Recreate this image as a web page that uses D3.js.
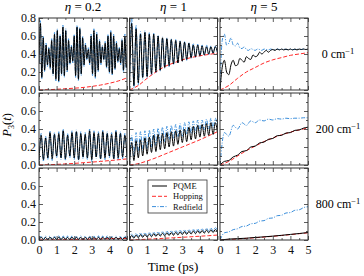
<!DOCTYPE html>
<html>
<head>
<meta charset="utf-8">
<script src="https://cdn.jsdelivr.net/npm/d3@7"></script>
<style>
  body { margin: 0; background: #fff; }
  svg text { font-family: "Liberation Serif", "Times New Roman", "DejaVu Serif", serif; }
</style>
</head>
<body>
<svg width="364" height="276"></svg>
<script>
// labels
const etaLabels = ["\u03b7 = 0.2", "\u03b7 = 1", "\u03b7 = 5"];
const couplingLabels = ["0", "200", "800"];
const seriesNames = ["PQME", "Hopping", "Redfield"];
const xTicks = [0, 1, 2, 3, 4, 5];
const yTicks = [0, 0.2, 0.4, 0.6, 0.8];

// time steps (ps) of the sampled curves
const dtA = 0.08, dtB = 0.125, dtC = 0.25, dtD = 0.5;

// row 0 : 0 cm-1
const pqme00 = [0.30,0.74,0.14,0.58,0.22,0.50,0.28,0.46,0.25,0.55,0.18,0.62,0.12,0.66,0.10,0.60,0.18,0.70,0.16,0.66,0.22,0.55,0.30,0.48,0.32,0.60,0.16,0.70,0.12,0.68,0.18,0.58,0.28,0.50,0.35,0.45,0.30,0.60,0.18,0.66,0.15,0.62,0.22,0.54,0.30,0.48,0.34,0.52,0.26,0.60,0.20,0.64,0.18,0.60,0.24,0.52,0.32,0.46,0.30,0.55,0.22,0.60,0.25,0.58];
const redfield00 = [0.30,0.77,0.12,0.60,0.20,0.52,0.26,0.48,0.23,0.57,0.16,0.64,0.10,0.68,0.08,0.62,0.16,0.72,0.14,0.68,0.20,0.57,0.28,0.50,0.30,0.62,0.14,0.72,0.10,0.70,0.16,0.60,0.26,0.52,0.33,0.47,0.28,0.62,0.16,0.68,0.13,0.64,0.20,0.56,0.28,0.50,0.32,0.54,0.24,0.62,0.18,0.66,0.16,0.62,0.22,0.54,0.30,0.48,0.28,0.57,0.20,0.62,0.23,0.60];
const hopping00 = [0,0.003,0.008,0.014,0.02,0.028,0.04,0.055,0.075,0.1,0.135];

const pqme01 = [0.0,0.74,0.05,0.68,0.08,0.62,0.14,0.64,0.15,0.62,0.18,0.62,0.20,0.60,0.22,0.58,0.25,0.57,0.27,0.56,0.29,0.55,0.30,0.54,0.32,0.53,0.34,0.52,0.36,0.50,0.37,0.50,0.38,0.49,0.39,0.48,0.40,0.48,0.41,0.48,0.42];
const redfield01 = [0.0,0.80,0.02,0.72,0.06,0.65,0.12,0.66,0.13,0.64,0.16,0.63,0.19,0.61,0.21,0.59,0.24,0.58,0.26,0.57,0.28,0.56,0.30,0.55,0.32,0.54,0.33,0.53,0.35,0.52,0.36,0.51,0.37,0.50,0.38,0.50,0.39,0.49,0.40,0.49,0.41];
const hopping01 = [0,0.05,0.13,0.20,0.26,0.30,0.335,0.36,0.38,0.395,0.41];

const pqme02 = [0.0,0.25,0.33,0.20,0.17,0.28,0.33,0.27,0.28,0.35,0.33,0.31,0.37,0.35,0.34,0.39,0.37,0.38,0.42,0.40,0.42,0.44,0.42,0.44,0.45,0.44,0.455,0.445,0.455,0.445,0.455,0.445,0.455,0.445,0.455,0.445,0.455,0.45,0.455,0.45,0.455];
const redfield02 = [0.0,0.55,0.62,0.50,0.52,0.58,0.50,0.49,0.52,0.47,0.46,0.48,0.45,0.44,0.46,0.45,0.44,0.455,0.45,0.44,0.455,0.45,0.445,0.455,0.45,0.445,0.455,0.45,0.45,0.455,0.45,0.45,0.455,0.45,0.45,0.455,0.45,0.45,0.455,0.45,0.45];
const hopping02 = [0,0.05,0.13,0.20,0.25,0.30,0.335,0.36,0.385,0.40,0.415];

// row 1 : 200 cm-1
const pqme10 = [0.05,0.33,0.06,0.30,0.08,0.36,0.07,0.34,0.10,0.35,0.08,0.38,0.07,0.33,0.10,0.36,0.08,0.37,0.06,0.35,0.09,0.34,0.08,0.38,0.06,0.36,0.09,0.35,0.07,0.37,0.08,0.35,0.10,0.34,0.07,0.37,0.08,0.35,0.09,0.33,0.10];
const redfield10 = [0.05,0.35,0.04,0.32,0.06,0.38,0.05,0.36,0.08,0.37,0.06,0.40,0.05,0.35,0.08,0.38,0.06,0.39,0.04,0.37,0.07,0.36,0.06,0.40,0.04,0.38,0.07,0.37,0.05,0.39,0.06,0.37,0.08,0.36,0.05,0.39,0.06,0.37,0.07,0.35,0.08];
const hopping10 = [0,0.003,0.007,0.012,0.018,0.025,0.032,0.040,0.049,0.058,0.068];

const pqme11 = [0.0,0.25,0.05,0.27,0.08,0.28,0.10,0.30,0.12,0.31,0.14,0.33,0.15,0.34,0.17,0.35,0.18,0.36,0.20,0.37,0.21,0.38,0.23,0.39,0.25,0.40,0.26,0.42,0.28,0.43,0.29,0.44,0.31,0.45,0.32,0.46,0.33,0.47,0.34,0.47,0.36];
const redfield11 = [0.0,0.33,0.10,0.36,0.14,0.37,0.16,0.38,0.18,0.39,0.20,0.40,0.22,0.41,0.24,0.42,0.26,0.43,0.28,0.44,0.29,0.45,0.31,0.46,0.32,0.47,0.34,0.48,0.35,0.49,0.36,0.50,0.38,0.50,0.39,0.51,0.40,0.52,0.41,0.52,0.43];
const hopping11 = [0,0.015,0.045,0.08,0.12,0.16,0.20,0.24,0.28,0.325,0.37];

const pqme12 = [0,0.04,0.05,0.09,0.11,0.15,0.16,0.20,0.21,0.245,0.255,0.285,0.295,0.325,0.33,0.355,0.36,0.385,0.39,0.41,0.42];
const redfield12 = [0,0.36,0.32,0.44,0.40,0.47,0.44,0.49,0.47,0.50,0.49,0.51,0.50,0.515,0.51,0.52,0.515,0.52,0.52,0.525,0.525];
const hopping12 = [0,0.04,0.10,0.16,0.21,0.26,0.30,0.335,0.365,0.39,0.41];

// row 2 : 800 cm-1
const pqme20 = [0,0.03,0.006,0.028,0.005,0.03,0.007,0.029,0.006,0.031,0.005,0.03,0.007,0.028,0.006,0.031,0.005,0.03,0.007,0.029,0.006,0.03,0.005,0.031,0.007,0.028,0.006,0.03,0.005,0.031,0.007,0.029,0.006,0.03,0.005,0.031,0.007,0.028,0.006,0.03,0.007];
const redfield20 = [0,0.045,0.003,0.044,0.002,0.046,0.003,0.045,0.002,0.047,0.003,0.045,0.002,0.044,0.003,0.046,0.002,0.045,0.003,0.047,0.002,0.045,0.003,0.046,0.002,0.044,0.003,0.046,0.002,0.045,0.003,0.047,0.002,0.045,0.003,0.046,0.002,0.044,0.003,0.046,0.003];
const hopping20 = [0,0.001,0.002,0.004,0.006,0.008,0.010,0.012,0.014,0.016,0.018];

const pqme21 = [0,0.05,0.02,0.055,0.025,0.06,0.03,0.062,0.033,0.066,0.036,0.07,0.04,0.072,0.043,0.076,0.046,0.08,0.05,0.083,0.053,0.086,0.056,0.09,0.06,0.093,0.063,0.096,0.066,0.1,0.07,0.103,0.073,0.106,0.076,0.11,0.08,0.113,0.083,0.116,0.086];
const redfield21 = [0,0.07,0.035,0.075,0.04,0.08,0.045,0.083,0.048,0.087,0.052,0.09,0.056,0.094,0.06,0.098,0.063,0.102,0.067,0.105,0.07,0.108,0.074,0.112,0.077,0.115,0.08,0.118,0.084,0.122,0.087,0.125,0.09,0.128,0.094,0.132,0.097,0.135,0.1,0.14,0.104];
const hopping21 = [0,0.004,0.009,0.014,0.019,0.025,0.030,0.036,0.042,0.048,0.055];

const pqme22 = [0,0.01,0.015,0.02,0.028,0.035,0.043,0.052,0.062,0.072,0.083];
const redfield22 = [0,0.08,0.09,0.115,0.125,0.15,0.155,0.18,0.185,0.21,0.215,0.24,0.245,0.27,0.275,0.3,0.305,0.33,0.335,0.36,0.37];
const hopping22 = [0,0.005,0.011,0.018,0.025,0.033,0.041,0.05,0.06,0.07,0.08];

const panels = [
  [ {pqme: [pqme00, dtA], hop: [hopping00, dtD], red: [redfield00, dtA]},
    {pqme: [pqme01, dtB], hop: [hopping01, dtD], red: [redfield01, dtB]},
    {pqme: [pqme02, dtB], hop: [hopping02, dtD], red: [redfield02, dtB]} ],
  [ {pqme: [pqme10, dtB], hop: [hopping10, dtD], red: [redfield10, dtB]},
    {pqme: [pqme11, dtB], hop: [hopping11, dtD], red: [redfield11, dtB]},
    {pqme: [pqme12, dtC], hop: [hopping12, dtD], red: [redfield12, dtC]} ],
  [ {pqme: [pqme20, dtB], hop: [hopping20, dtD], red: [redfield20, dtB]},
    {pqme: [pqme21, dtB], hop: [hopping21, dtD], red: [redfield21, dtB]},
    {pqme: [pqme22, dtD], hop: [hopping22, dtD], red: [redfield22, dtC]} ]
];

const styles = {
  pqme: {color: "#000", dash: null},
  hop:  {color: "#ff2a2a", dash: "4,2"},
  red:  {color: "#3a8edb", dash: "4,1.5,1,1.5"}
};

const serif = "'Liberation Serif', 'Times New Roman', 'DejaVu Serif', serif";
const chartLeft = 39, chartTop = 18, panelW = 88, panelH = 72, gapX = 2.5, gapY = 3;
const axisColor = "#333";

const svg = d3.select("svg");
const x = d3.scaleLinear().domain([0, 5]).range([0, panelW]);
const y = d3.scaleLinear().domain([0, 0.8]).range([panelH, 0]);

function drawTicks(g, row, col){
  const xMinor = d3.range(0.5, 5, 1);
  const yMinor = d3.range(0.1, 0.8, 0.2);
  const bottomLabels = row == 2;
  const xLabelTicks = col == 2 ? xTicks : xTicks.slice(0, 5);

  // major
  g.append("g").attr("transform", "translate(0," + panelH + ")")
    .call(d3.axisBottom(x).tickValues(xTicks).tickSize(-4).tickPadding(5)
      .tickFormat(d => bottomLabels && xLabelTicks.includes(d) ? d : ""));
  g.append("g").call(d3.axisTop(x).tickValues(xTicks).tickSize(-4).tickFormat(""));
  const yLab = row == 0 ? yTicks : yTicks.slice(0, 4);
  g.append("g")
    .call(d3.axisLeft(y).tickValues(yTicks).tickSize(-4).tickPadding(3)
      .tickFormat(d => col == 0 && yLab.includes(d) ? d3.format(".1f")(d) : ""));
  g.append("g").attr("transform", "translate(" + panelW + ",0)")
    .call(d3.axisRight(y).tickValues(yTicks).tickSize(-4).tickFormat(""));
  // minor
  g.append("g").attr("transform", "translate(0," + panelH + ")")
    .call(d3.axisBottom(x).tickValues(xMinor).tickSize(-2).tickFormat(""));
  g.append("g").call(d3.axisTop(x).tickValues(xMinor).tickSize(-2).tickFormat(""));
  g.append("g").call(d3.axisLeft(y).tickValues(yMinor).tickSize(-2).tickFormat(""));
  g.append("g").attr("transform", "translate(" + panelW + ",0)")
    .call(d3.axisRight(y).tickValues(yMinor).tickSize(-2).tickFormat(""));

  g.selectAll(".domain").remove();
  g.selectAll("g").attr("font-family", serif);
  g.selectAll(".tick line").attr("stroke", axisColor).attr("stroke-width", 0.8);
  g.selectAll(".tick text").style("font-family", serif)
    .attr("font-size", 12).attr("fill", "#111");
}

panels.forEach((rowPanels, row) => {
  rowPanels.forEach((p, col) => {
    const g = svg.append("g")
      .attr("transform", "translate(" + (chartLeft + col*(panelW+gapX)) + "," + (chartTop + row*(panelH+gapY)) + ")");
    const clipId = "clip" + row + col;
    g.append("clipPath").attr("id", clipId)
      .append("rect").attr("width", panelW).attr("height", panelH);

    const lines = g.append("g").attr("clip-path", "url(#" + clipId + ")");
    ["red", "hop", "pqme"].forEach(k => {
      const vals = p[k][0], dt = p[k][1];
      const line = d3.line()
        .x((d, i) => x(i*dt))
        .y(d => y(d))
        .curve(d3.curveMonotoneX);
      lines.append("path")
        .attr("d", line(vals))
        .attr("fill", "none")
        .attr("stroke", styles[k].color)
        .attr("stroke-width", 1)
        .attr("stroke-dasharray", styles[k].dash);
    });

    drawTicks(g, row, col);

    g.append("rect").attr("width", panelW).attr("height", panelH)
      .attr("fill", "none").attr("stroke", axisColor).attr("stroke-width", 1);

    if (row == 0) {
      g.append("text").attr("x", panelW/2).attr("y", -7)
        .attr("text-anchor", "middle").attr("font-size", 13).style("font-family", serif)
        .html("<tspan font-style='italic'>\u03b7</tspan>" + etaLabels[col].slice(1));
    }
    if (col == 2) {
      const t = g.append("text").attr("x", panelW + 30).attr("y", panelH/2 + 4)
        .attr("text-anchor", "middle").attr("font-size", 12).style("font-family", serif);
      t.append("tspan").text(couplingLabels[row] + " cm");
      t.append("tspan").attr("dy", -4.5).attr("font-size", 8.5).text("\u22121");
    }
    if (row == 2 && col == 1) {
      const lg = g.append("g").attr("transform", "translate(18.5,12)");
      lg.append("rect").attr("width", 59).attr("height", 33)
        .attr("fill", "#fff").attr("stroke", axisColor).attr("stroke-width", 0.8);
      ["pqme", "hop", "red"].forEach((k, i) => {
        const yy = 6 + i*10.3;
        lg.append("line").attr("x1", 4).attr("x2", 19).attr("y1", yy).attr("y2", yy)
          .attr("stroke", styles[k].color).attr("stroke-width", 1)
          .attr("stroke-dasharray", styles[k].dash);
        lg.append("text").attr("x", 25).attr("y", yy + 3).attr("font-size", 8.5)
          .style("font-family", serif).attr("fill", "#111").text(seriesNames[i]);
      });
    }
  });
});

// axis titles
const yt = svg.append("text").attr("transform", "translate(11,125) rotate(-90)")
  .attr("text-anchor", "middle").attr("font-size", 12.5).style("font-family", serif);
yt.append("tspan").attr("font-style", "italic").text("P");
yt.append("tspan").attr("dy", 3).attr("font-size", 8.5).text("3");
yt.append("tspan").attr("dy", -3).text("(");
yt.append("tspan").attr("font-style", "italic").text("t");
yt.append("tspan").text(")");

svg.append("text").attr("x", 173).attr("y", 271).attr("text-anchor", "middle")
  .attr("font-size", 13).style("font-family", serif).text("Time (ps)");
</script>
</body>
</html>
